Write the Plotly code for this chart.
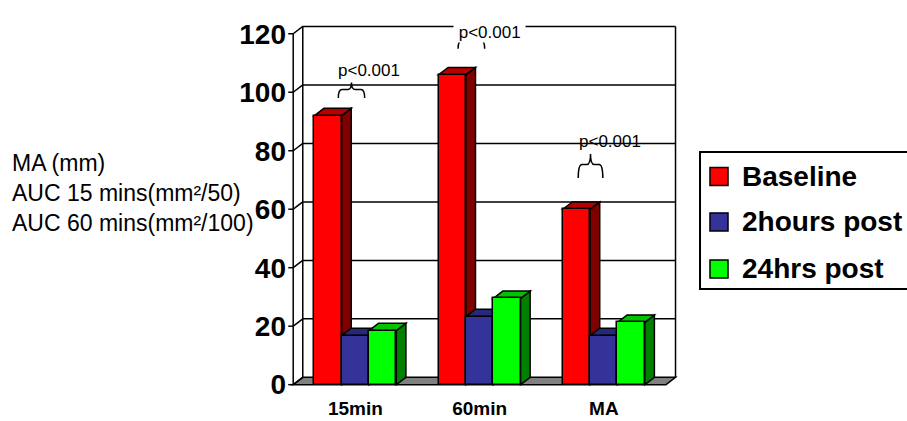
import plotly.graph_objects as go

# ---- data -------------------------------------------------------------
categories = ["15min", "60min", "MA"]
series_names = ["Baseline", "2hours post", "24hrs post"]
baseline = [92, 106, 60]
two_hours_post = [16.8, 23.3, 16.8]
twentyfour_hrs_post = [18.5, 29.5, 21.3]
y_ticks = [0, 20, 40, 60, 80, 100, 120]
y_label_lines = ["MA (mm)", "AUC 15 mins(mm²/50)", "AUC 60 mins(mm²/100)"]
p_text = "p&lt;0.001"

series_values = [baseline, two_hours_post, twentyfour_hrs_post]
front_colors = ["#FF0000", "#333399", "#00FF00"]
side_colors = ["#800000", "#1C1C5E", "#008000"]
top_colors = ["#B80000", "#28287A", "#00C400"]

# ---- 3-D look parameters (axis units) --------------------------------
DX = 0.077        # depth offset along x
DY = 2.5          # depth offset along y
BAR_W = 0.22
OFFSETS = [-0.22, 0.0, 0.22]
Y_MAX = y_ticks[-1]
X_LEFT, X_RIGHT = -0.5, len(categories) - 0.5

FONT = "Arial, Liberation Sans, sans-serif"
LINE = dict(color="black", width=1.5)

fig = go.Figure()
shapes = []

# walls and floor
shapes.append(dict(type="path", layer="below",
                   path=f"M{X_LEFT},0 L{X_RIGHT},0 L{X_RIGHT+DX},{DY} L{X_LEFT+DX},{DY} Z",
                   fillcolor="#808080", line=LINE))
for v in y_ticks:
    if v > 0:
        shapes.append(dict(type="line", layer="below", x0=X_LEFT + DX, x1=X_RIGHT + DX,
                           y0=v + DY, y1=v + DY, line=LINE))
    shapes.append(dict(type="line", layer="below", x0=X_LEFT, x1=X_LEFT + DX,
                       y0=v, y1=v + DY, line=LINE))
    # tick marks on the front axis
    shapes.append(dict(type="line", layer="above", x0=X_LEFT - 0.04, x1=X_LEFT,
                       y0=v, y1=v, line=LINE))
shapes.append(dict(type="line", layer="below", x0=X_LEFT + DX, x1=X_LEFT + DX,
                   y0=DY, y1=Y_MAX + DY, line=LINE))
shapes.append(dict(type="line", layer="below", x0=X_RIGHT + DX, x1=X_RIGHT + DX,
                   y0=DY, y1=Y_MAX + DY, line=LINE))
shapes.append(dict(type="line", layer="above", x0=X_LEFT, x1=X_LEFT,
                   y0=0, y1=Y_MAX, line=LINE))

# side and top faces of each column
for s, vals in enumerate(series_values):
    for i, v in enumerate(vals):
        xl = i + OFFSETS[s] - BAR_W / 2
        xr = xl + BAR_W
        shapes.append(dict(type="path", layer="below",
                           path=f"M{xr},0 L{xr+DX},{DY} L{xr+DX},{v+DY} L{xr},{v} Z",
                           fillcolor=side_colors[s], line=LINE))
        shapes.append(dict(type="path", layer="below",
                           path=f"M{xl},{v} L{xr},{v} L{xr+DX},{v+DY} L{xl+DX},{v+DY} Z",
                           fillcolor=top_colors[s], line=LINE))

# front faces
for s, vals in enumerate(series_values):
    fig.add_trace(go.Bar(
        x=[i + OFFSETS[s] for i in range(len(categories))], y=vals, width=BAR_W,
        name=series_names[s], marker=dict(color=front_colors[s], line=LINE),
        showlegend=False, hoverinfo="skip"))


def brace(x0, x1, y_line, y_end, y_nub, r=0.03):
    xc = (x0 + x1) / 2
    return (f"M{x0},{y_end} Q{x0},{y_line} {x0+r},{y_line} L{xc-r},{y_line} "
            f"Q{xc},{y_line} {xc},{y_nub} Q{xc},{y_line} {xc+r},{y_line} "
            f"L{x1-r},{y_line} Q{x1},{y_line} {x1},{y_end}")


braces = [(-0.137, 0.075, 100.9, 98.0, 103.3),
          (0.827, 1.041, 117.7, 114.9, 120.0),
          (1.794, 1.992, 75.3, 70.7, 78.9)]
for b in braces:
    shapes.append(dict(type="path", layer="above", path=brace(*b),
                       line=dict(color="black", width=1.5)))

p_font = dict(family=FONT, size=17, color="black")
annotations = [
    dict(x=0.109, y=107.4, xref="x", yref="y", text=p_text, showarrow=False, font=p_font),
    dict(x=1.079, y=1.007, xref="x", yref="paper", text="\u00a0" + p_text + "\u00a0",
         showarrow=False, bgcolor="white", borderpad=0, font=p_font),
    dict(x=2.046, y=83.0, xref="x", yref="y", text=p_text, showarrow=False, font=p_font),
]
for line_text, yy in zip(y_label_lines, [0.619, 0.536, 0.453]):
    annotations.append(dict(x=-0.708, y=yy, xref="paper", yref="paper", xanchor="left",
                            text=line_text, showarrow=False,
                            font=dict(family=FONT, size=23, color="black")))

# legend box drawn in paper space
LEG_X0, LEG_X1, LEG_Y0, LEG_Y1 = 1.0563, 1.62, 0.271, 0.649
shapes.append(dict(type="rect", xref="paper", yref="paper", layer="above",
                   x0=LEG_X0, x1=LEG_X1, y0=LEG_Y0, y1=LEG_Y1,
                   fillcolor="white", line=dict(color="black", width=2)))
legend_rows = [0.5815, 0.456, 0.326]
for s, (name, yc) in enumerate(zip(series_names, legend_rows)):
    shapes.append(dict(type="rect", xref="paper", yref="paper", layer="above",
                       x0=1.0818, x1=1.1279, y0=yc - 0.0249, y1=yc + 0.0249,
                       fillcolor=front_colors[s], line=LINE))
    annotations.append(dict(x=1.1586, y=yc, xref="paper", yref="paper",
                            xanchor="left", yanchor="middle", text=name, showarrow=False,
                            font=dict(family=FONT, size=28, color="black", weight="bold")))

fig.update_layout(
    width=907, height=421,
    margin=dict(l=287, r=229, t=25, b=34),
    paper_bgcolor="white", plot_bgcolor="white",
    barmode="overlay", bargap=0, showlegend=False,
    shapes=shapes, annotations=annotations,
    xaxis=dict(range=[X_LEFT - 0.05, X_RIGHT + DX + 0.02], tickmode="array",
               tickvals=list(range(len(categories))), ticktext=categories,
               showgrid=False, zeroline=False, showline=False, ticks="",
               automargin=False, ticklabelstandoff=8,
               tickfont=dict(family=FONT, size=19, color="black", weight="bold")),
    yaxis=dict(range=[-0.8, Y_MAX + DY + 0.5], tickmode="array", tickvals=y_ticks,
               showgrid=False, zeroline=False, showline=False, ticks="",
               automargin=False,
               tickfont=dict(family=FONT, size=28, color="black", weight="bold")),
)

fig.write_html("out.html")
